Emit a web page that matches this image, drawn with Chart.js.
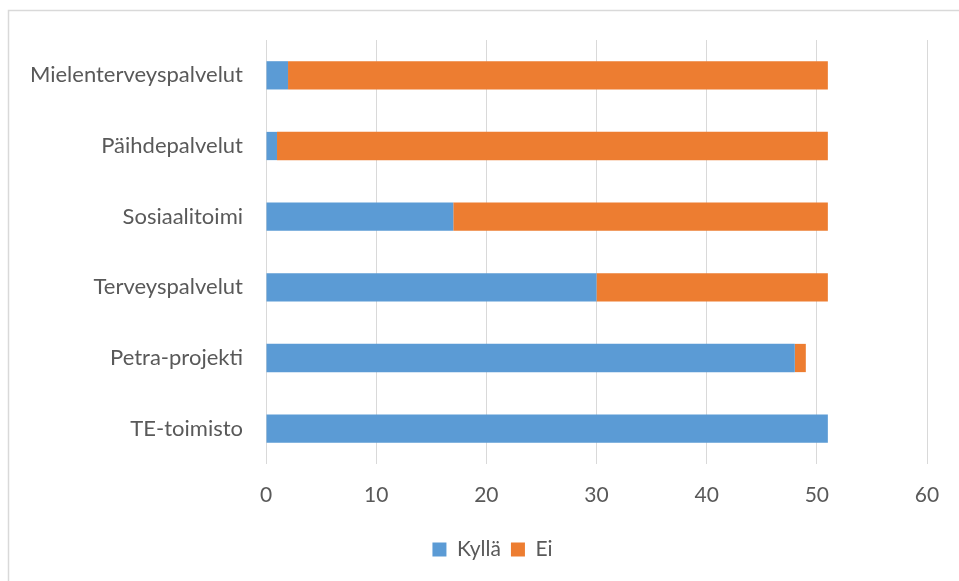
<!DOCTYPE html>
<html>
<head>
<meta charset="utf-8">
<script src="https://cdn.jsdelivr.net/npm/chart.js@4"></script>
<style>
html,body{margin:0;padding:0;background:#fff;}
#wrap{width:959px;height:581px;position:relative;}
</style>
</head>
<body>
<div id="wrap"><canvas id="c" width="959" height="581"></canvas></div>
<script>
const categories = ["Mielenterveyspalvelut","Päihdepalvelut","Sosiaalitoimi","Terveyspalvelut","Petra-projekti","TE-toimisto"];
const kyllaValues = [2, 1, 17, 30, 48, 51];
const eiValues = [49, 50, 34, 21, 1, 0];
const xTicks = [0, 10, 20, 30, 40, 50, 60];

const FONT = "Lato, 'Open Sans', sans-serif";
const TXT = "#595959";

const borderPlugin = {
  id: 'frame',
  beforeDraw(chart) {
    const ctx = chart.ctx;
    ctx.save();
    ctx.strokeStyle = '#d9d9d9';
    ctx.lineWidth = 1.5;
    ctx.beginPath();
    ctx.moveTo(8.5, 581);
    ctx.lineTo(8.5, 10.5);
    ctx.lineTo(959, 10.5);
    ctx.stroke();
    ctx.restore();
  },
  afterLayout(chart) {
    if (chart.legend) { chart.legend.left = 58; }
  }
};

new Chart(document.getElementById('c'), {
  type: 'bar',
  data: {
    labels: categories,
    datasets: [
      { label: 'Kyllä', data: kyllaValues, backgroundColor: '#5B9BD5', barPercentage: 0.4, categoryPercentage: 1 },
      { label: 'Ei', data: eiValues, backgroundColor: '#ED7D31', barPercentage: 0.4, categoryPercentage: 1 }
    ]
  },
  options: {
    indexAxis: 'y',
    responsive: false,
    animation: false,
    layout: { padding: { top: 40, left: 0, right: 32, bottom: 11 } },
    scales: {
      x: {
        stacked: true,
        min: 0, max: 60,
        afterBuildTicks(axis) { axis.ticks = xTicks.map(v => ({ value: v })); },
        afterFit(axis) { axis.height = 65; },
        grid: { color: '#d9d9d9', lineWidth: 1, drawTicks: false },
        border: { display: false },
        ticks: { color: TXT, font: { family: FONT, size: 21 }, padding: 19 }
      },
      y: {
        stacked: true,
        afterFit(axis) { axis.width = 266; },
        grid: { display: false, drawTicks: false },
        border: { display: false },
        ticks: { color: TXT, font: { family: FONT, size: 22 }, padding: 23 }
      }
    },
    plugins: {
      legend: {
        position: 'bottom',
        labels: { color: TXT, font: { family: FONT, size: 21 }, boxWidth: 14, boxHeight: 14, padding: 10 }
      },
      tooltip: { enabled: false }
    }
  },
  plugins: [borderPlugin]
});
</script>
</body>
</html>
